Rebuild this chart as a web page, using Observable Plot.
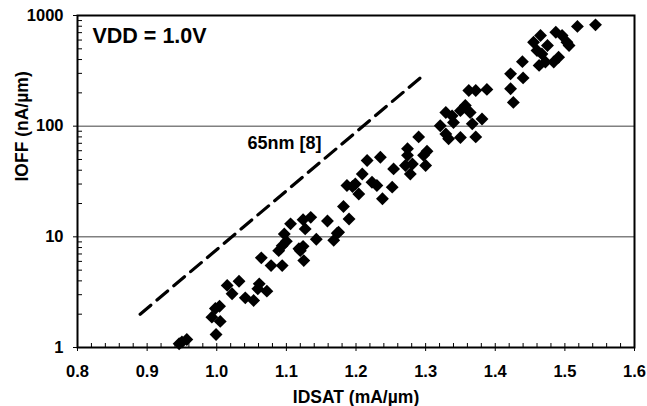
<!DOCTYPE html>
<html>
<head>
<meta charset="utf-8">
<script src="https://cdn.jsdelivr.net/npm/d3@7"></script>
<script src="https://cdn.jsdelivr.net/npm/@observablehq/plot@0.6"></script>
<style>
  html, body { margin: 0; padding: 0; background: #fff; }
</style>
</head>
<body>
<div id="chart"></div>
<script>
// Measured devices: IDSAT (mA/µm) and IOFF (nA/µm)
const idsat = [
  0.950, 0.957, 0.946, 0.999, 0.993, 1.005, 1.004, 0.998, 1.015, 1.022,
  1.032, 1.041, 1.053, 1.061, 1.072, 1.059, 1.064, 1.078, 1.094, 1.089,
  1.094, 1.100, 1.097, 1.106, 1.118, 1.125, 1.124, 1.124, 1.135, 1.127,
  1.143, 1.159, 1.168, 1.173, 1.182, 1.190, 1.187, 1.195, 1.204, 1.209,
  1.216, 1.235, 1.223, 1.230, 1.238, 1.252, 1.254, 1.271, 1.274, 1.278,
  1.297, 1.300, 1.274, 1.302, 1.290, 1.321, 1.329, 1.338, 1.350, 1.357,
  1.364, 1.381, 1.367, 1.329, 1.333, 1.350, 1.372, 1.340, 1.362, 1.372,
  1.388, 1.422, 1.439, 1.440, 1.422, 1.426, 1.455, 1.465, 1.460, 1.467,
  1.463, 1.472, 1.484, 1.491, 1.487, 1.496, 1.503, 1.506, 1.475, 1.518,
  1.544, 1.281, 1.199, 1.120, 1.175
];
const ioff = [
  1.12, 1.18, 1.08, 1.31, 1.88, 1.72, 2.36, 2.25, 3.64, 3.06,
  3.97, 2.81, 2.66, 3.76, 3.23, 3.39, 6.46, 5.5, 5.5, 7.5,
  8.3, 9.1, 10.6, 13.1, 7.8, 6.1, 8.2, 14.3, 15.0, 11.8,
  9.5, 13.9, 9.3, 10.8, 18.8, 14.5, 29.1, 28.5, 24.4, 37,
  49, 52.4, 31.1, 29.1, 22.1, 28.1, 41.1, 44.1, 54.5, 37,
  54.5, 44.1, 62.6, 59.3, 80, 101, 133, 124, 138, 154,
  133, 116, 105, 85, 77, 79, 80, 108, 210, 210,
  215, 297, 383, 273, 218, 164, 573, 660, 483, 449,
  354, 380, 380, 420, 705, 660, 573, 535, 535, 797,
  823, 45.5, 30, 7.5, 11.0
];
// 65nm reference trend [8]
const refX = [0.89, 1.30];
const refY = [2.0, 300];

// Axis ticks and texts
const xMajor = [0.8, 0.9, 1.0, 1.1, 1.2, 1.3, 1.4, 1.5, 1.6];
const xMinor = d3.range(0, 41).map(i => +(0.8 + i * 0.02).toFixed(2));
const yMajor = [1, 10, 100, 1000];
const yMinor = [2,3,4,5,6,7,8,9,20,30,40,50,60,70,80,90,200,300,400,500,600,700,800,900];
const yGrid = [10, 100];
const xTitle = "IDSAT (mA/µm)";
const yTitle = "IOFF (nA/µm)";
const condition = "VDD = 1.0V";
const refLabel = "65nm [8]";

const points = idsat.map((x, i) => ({x, y: ioff[i]}));
const ref = refX.map((x, i) => ({x, y: refY[i]}));

const chart = Plot.plot({
  width: 647,
  height: 406,
  marginLeft: 77,
  marginRight: 13,
  marginTop: 15,
  marginBottom: 59,
  style: {fontFamily: "'Liberation Sans', Arial, sans-serif", fontWeight: "bold", fontSize: "16px", color: "#000", background: "#fff"},
  x: {domain: [0.8, 1.6]},
  y: {type: "log", domain: [1, 1000]},
  marks: [
    Plot.ruleY(yGrid, {stroke: "#808080", strokeWidth: 1.5}),
    Plot.axisX({ticks: xMinor, tickSize: -4, text: null, label: null}),
    Plot.axisX({ticks: xMajor, tickSize: 4, tickPadding: 14, tickFormat: d3.format(".1f"), fontSize: 16.5, label: null}),
    Plot.axisY({ticks: yMinor, tickSize: -5, text: null, label: null}),
    Plot.axisY({ticks: yMajor, tickSize: 4, tickPadding: 10, tickFormat: d => String(d), fontSize: 16.5, label: null}),
    Plot.text([xTitle], {frameAnchor: "bottom", dy: 50, lineAnchor: "middle", fontSize: 17.5, fontWeight: "bold"}),
    Plot.text([yTitle], {frameAnchor: "left", dx: -55, rotate: -90, lineAnchor: "middle", fontSize: 17.5, fontWeight: "bold"}),
    Plot.line(ref, {x: "x", y: "y", stroke: "#000", strokeWidth: 3.2, strokeDasharray: "14,8"}),
    Plot.dot(points, {x: "x", y: "y", symbol: "diamond2", r: 5.8, fill: "#000", stroke: "none"}),
    Plot.text([refLabel], {x: 1.044, y: 70, textAnchor: "start", fontSize: 18, fontWeight: "bold"}),
    Plot.text([condition], {frameAnchor: "top-left", dx: 15, dy: 21, textAnchor: "start", lineAnchor: "middle", fontSize: 21.5, fontWeight: "bold"}),
    Plot.frame({stroke: "#000", strokeWidth: 2})
  ]
});
document.getElementById("chart").appendChild(chart);
</script>
</body>
</html>
